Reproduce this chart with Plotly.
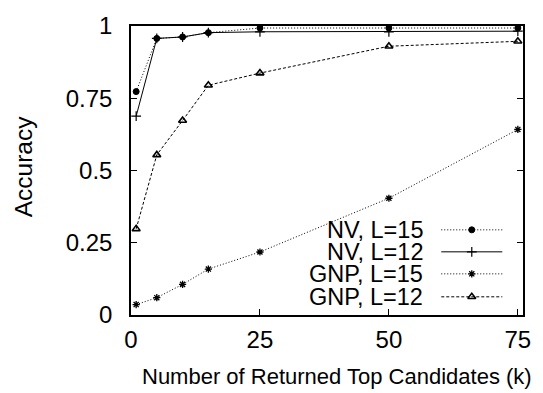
import plotly.graph_objects as go

k = [1, 5, 10, 15, 25, 50, 75]
nv15 = [0.773, 0.957, 0.962, 0.977, 0.993, 0.993, 0.993]
nv12 = [0.688, 0.957, 0.962, 0.977, 0.980, 0.980, 0.982]
gnp15 = [0.036, 0.060, 0.106, 0.159, 0.218, 0.404, 0.642]
gnp12 = [0.298, 0.554, 0.673, 0.795, 0.837, 0.930, 0.947]

names = ["NV, L=15", "NV, L=12", "GNP, L=15", "GNP, L=12"]
series = [nv15, nv12, gnp15, gnp12]
dashes = ["1px,2px", "solid", "1px,2px", "3px,2px"]
symbols = ["circle", "cross-thin-open", "asterisk-open", "triangle-up-open"]
msizes = [6, 7, 6, 7]
mlw = [1, 1.2, 1.3, 1.6]

xtick_vals = [0, 25, 50, 75]
ytick_vals = [0, 0.25, 0.5, 0.75, 1]
ytick_text = ["0", "0.25", "0.5", "0.75", "1"]

FONT = "Liberation Sans, Arial, sans-serif"
W, H = 543, 393
L, R, T, B = 131, 14, 13, 78
PW, PH = W - L - R, H - T - B

fig = go.Figure()
for name, ys, d, s, ms, lw in zip(names, series, dashes, symbols, msizes, mlw):
    fig.add_trace(go.Scatter(
        x=k, y=ys, mode="lines+markers", name=name, showlegend=False,
        line=dict(color="black", width=1, dash=d),
        marker=dict(symbol=s, size=ms, color="black",
                    line=dict(color="black", width=lw)),
    ))

# gnuplot-style key (text right-aligned, sample to its right) on a pixel-mapped overlay axis
leg_y = [226, 249, 272, 296]
leg_x0, leg_x1, leg_text_r = 446, 508, 429
for name, d, s, ms, lw, yy in zip(names, dashes, symbols, msizes, mlw, leg_y):
    fig.add_trace(go.Scatter(
        x=[leg_x0, leg_x1], y=[yy, yy],
        xaxis="x2", yaxis="y2", mode="lines", showlegend=False, hoverinfo="skip",
        line=dict(color="black", width=1, dash=d)))
    fig.add_trace(go.Scatter(
        x=[(leg_x0 + leg_x1) / 2], y=[yy],
        xaxis="x2", yaxis="y2", mode="markers", showlegend=False, hoverinfo="skip",
        marker=dict(symbol=s, size=ms, color="black", line=dict(color="black", width=lw))))
    fig.add_annotation(x=(leg_text_r - L) / PW, y=(T + PH - yy) / PH, xref="paper", yref="paper",
                       text=name, showarrow=False, xanchor="right", yanchor="middle",
                       height=22, align="right",
                       font=dict(family=FONT, size=23.5, color="black"))

axis_common = dict(showline=True, linecolor="black", linewidth=1.5, mirror="allticks",
                   ticks="inside", ticklen=6, tickcolor="black", tickwidth=1,
                   showgrid=False, zeroline=False,
                   tickfont=dict(family=FONT, size=24, color="black"))

fig.update_layout(
    width=W, height=H,
    margin=dict(l=L, r=R, t=T, b=B),
    paper_bgcolor="white", plot_bgcolor="white",
    font=dict(family=FONT, size=22, color="black"),
    xaxis=dict(range=[0, 76], tickvals=xtick_vals, ticklabelstandoff=2, **axis_common),
    yaxis=dict(range=[0, 1], tickvals=ytick_vals, ticktext=ytick_text, ticklabelstandoff=12, **axis_common),
    xaxis2=dict(range=[L, L + PW], overlaying="x", visible=False, fixedrange=True),
    yaxis2=dict(range=[T + PH, T], overlaying="y", visible=False, fixedrange=True),
    showlegend=False,
)
fig.add_annotation(x=(340 - L) / PW, y=(T + PH - 379) / PH, xref="paper", yref="paper",
                   text="Number of Returned Top Candidates (k)", showarrow=False,
                   xanchor="center", yanchor="middle", font=dict(family=FONT, size=22))
fig.add_annotation(x=(22 - L) / PW, y=(T + PH - 160) / PH, xref="paper", yref="paper",
                   text="Accuracy", showarrow=False, textangle=-90,
                   xanchor="center", yanchor="middle", font=dict(family=FONT, size=24.5))

fig.write_html("out.html")
